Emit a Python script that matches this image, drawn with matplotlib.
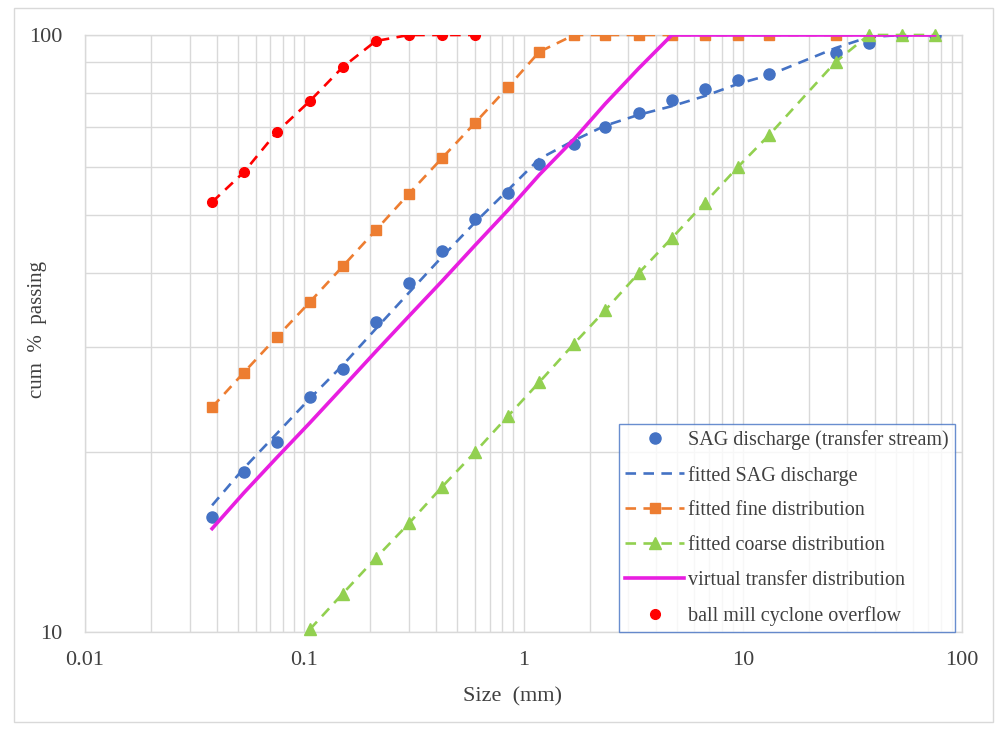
import matplotlib
matplotlib.use("Agg")
import matplotlib.pyplot as plt
from matplotlib.ticker import LogLocator, NullFormatter, FixedLocator, FixedFormatter
from matplotlib.patches import Rectangle

plt.rcParams['font.family'] = ['Liberation Serif', 'DejaVu Serif']

# ---------- data ----------
sizes = [0.038, 0.053, 0.075, 0.106, 0.15, 0.212, 0.3, 0.425, 0.6, 0.85, 1.18,
         1.7, 2.36, 3.35, 4.75, 6.7, 9.5, 13.2, 26.5, 37.5, 53, 75]

sag_discharge = [15.6, 18.5, 20.8, 24.8, 27.6, 33.1, 38.4, 43.5, 49.2, 54.4, 60.8,
                 65.7, 70.1, 74.0, 77.8, 81.2, 84.1, 86.0, 93.3, 97.0, 100, 100]
fitted_sag = [16.3, 18.8, 21.5, 24.6, 28.0, 32.2, 37.0, 42.5, 48.5, 55.0, 62.0,
              66.6, 70.5, 73.5, 76.0, 79.0, 82.8, 85.7, 95.1, 99.2, 100, 100]

fine_sizes = sizes[:20]
fitted_fine = [23.8, 27.2, 31.2, 35.7, 41.0, 47.1, 54.2, 62.2, 71.2, 81.8, 93.7,
               100, 100, 100, 100, 100, 100, 100, 100, 100]

coarse_sizes = sizes[3:]
fitted_coarse = [10.1, 11.6, 13.3, 15.2, 17.5, 20.0, 23.0, 26.2, 30.4, 34.6,
                 39.9, 45.7, 52.3, 60.1, 68.0, 90.1, 100, 100, 100]

virtual_transfer = [14.9, 17.1, 19.6, 22.4, 25.7, 29.5, 33.8, 38.7, 44.4, 50.9, 58.3,
                    66.9, 76.7, 87.9, 100, 100, 100, 100, 100, 100, 100, 100]

bm_sizes = sizes[:9]
bm_overflow = [52.5, 58.9, 68.8, 77.5, 88.4, 97.7, 100, 100, 100]

x_ticks = [0.01, 0.1, 1, 10, 100]
x_ticklabels = ['0.01', '0.1', '1', '10', '100']
y_ticks = [10, 100]
y_ticklabels = ['10', '100']

# ---------- colours ----------
c_blue = '#4472C4'
c_orange = '#ED7D31'
c_green = '#92D050'
c_magenta = '#E81EE0'
c_red = '#FF0000'
c_grid = '#D9D9D9'

fig = plt.figure(figsize=(10.08, 7.32), dpi=100)
ax = fig.add_axes([85 / 1008, 1 - 632 / 732, 877 / 1008, 597 / 732])

dash = (4, 2.8)
ax.plot(sizes, sag_discharge, linestyle='none', marker='o', ms=8,
        color=c_blue, label='SAG discharge (transfer stream)', zorder=3)
ax.plot(sizes, fitted_sag, linestyle='--', dashes=dash, lw=1.9,
        color=c_blue, label='fitted SAG discharge', zorder=3)
ax.plot(fine_sizes, fitted_fine, linestyle='--', dashes=dash, lw=1.9, marker='s', ms=6.5,
        color=c_orange, label='fitted fine distribution', zorder=3)
ax.plot(coarse_sizes, fitted_coarse, linestyle='--', dashes=dash, lw=1.9, marker='^', ms=8,
        color=c_green, label='fitted coarse distribution', zorder=3, clip_on=False)
ax.plot(sizes, virtual_transfer, linestyle='-', lw=2.6,
        color=c_magenta, label='virtual transfer distribution', zorder=4)
ax.plot(bm_sizes, bm_overflow, linestyle='--', dashes=dash, lw=1.9,
        color=c_red, zorder=4)
ax.plot(bm_sizes, bm_overflow, linestyle='none', marker='o', ms=7,
        color=c_red, label='ball mill cyclone overflow', zorder=5)

ax.set_xscale('log')
ax.set_yscale('log')
ax.set_xlim(0.01, 100)
ax.set_ylim(10, 100)

ax.xaxis.set_major_locator(FixedLocator(x_ticks))
ax.xaxis.set_major_formatter(FixedFormatter(x_ticklabels))
ax.yaxis.set_major_locator(FixedLocator(y_ticks))
ax.yaxis.set_major_formatter(FixedFormatter(y_ticklabels))
ax.xaxis.set_minor_locator(LogLocator(base=10, subs=range(2, 10), numticks=20))
ax.yaxis.set_minor_locator(LogLocator(base=10, subs=range(2, 10), numticks=20))
ax.xaxis.set_minor_formatter(NullFormatter())
ax.yaxis.set_minor_formatter(NullFormatter())

ax.grid(True, which='both', color=c_grid, lw=1.0)
ax.set_axisbelow(True)
ax.tick_params(which='both', length=0, labelsize=16, colors='#404040')
ax.tick_params(axis='x', pad=14)
ax.tick_params(axis='y', pad=16)
for s in ax.spines.values():
    s.set_color(c_grid)
    s.set_linewidth(1.0)

ax.set_xlabel('Size  (mm)', fontsize=16, color='#404040')
ax.set_ylabel('cum  %  passing', fontsize=15, color='#404040')
ax.xaxis.set_label_coords(0.487, -0.092)
ax.yaxis.set_label_coords(-0.043, 0.506)

leg = ax.legend(loc='lower right', bbox_to_anchor=(0.992, 0.0), borderaxespad=0,
                fontsize=14.5, handlelength=2.9, labelspacing=0.78, handletextpad=0.2,
                borderpad=0.32, frameon=True, fancybox=False)
leg.get_frame().set_edgecolor(c_blue)
leg.get_frame().set_linewidth(1.0)
for t in leg.get_texts():
    t.set_color('#404040')

# outer chart border
fig.patches.append(Rectangle((14 / 1008, 1 - 722 / 732), 979 / 1008, 714 / 732,
                             transform=fig.transFigure, fill=False,
                             edgecolor=c_grid, lw=1.0))

fig.savefig('out.png', dpi=100)
